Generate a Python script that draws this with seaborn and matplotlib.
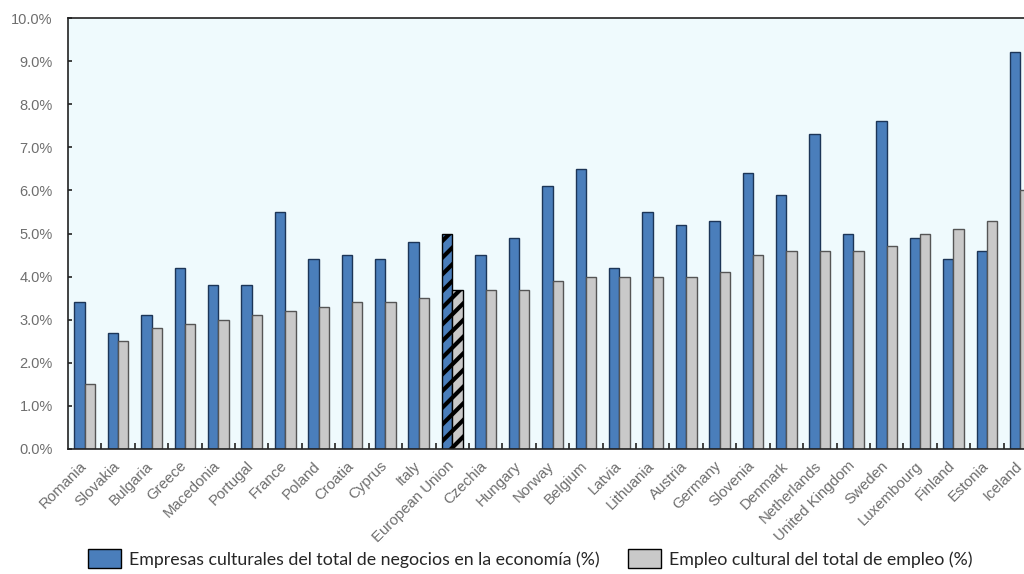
import pandas as pd
import numpy as np
import seaborn as sns
import matplotlib.pyplot as plt
import matplotlib.transforms as mtransforms
from matplotlib.patches import Patch

countries = ['Romania', 'Slovakia', 'Bulgaria', 'Greece', 'Macedonia', 'Portugal', 'France',
             'Poland', 'Croatia', 'Cyprus', 'Italy', 'European Union', 'Czechia', 'Hungary',
             'Norway', 'Belgium', 'Latvia', 'Lithuania', 'Austria', 'Germany', 'Slovenia',
             'Denmark', 'Netherlands', 'United Kingdom', 'Sweden', 'Luxembourg', 'Finland',
             'Estonia', 'Iceland']
empresas = [3.4, 2.7, 3.1, 4.2, 3.8, 3.8, 5.5, 4.4, 4.5, 4.4, 4.8, 5.0, 4.5, 4.9,
            6.1, 6.5, 4.2, 5.5, 5.2, 5.3, 6.4, 5.9, 7.3, 5.0, 7.6, 4.9, 4.4, 4.6, 9.2]
empleo = [1.5, 2.5, 2.8, 2.9, 3.0, 3.1, 3.2, 3.3, 3.4, 3.4, 3.5, 3.7, 3.7, 3.7,
          3.9, 4.0, 4.0, 4.0, 4.0, 4.1, 4.5, 4.6, 4.6, 4.6, 4.7, 5.0, 5.1, 5.3, 6.0]
series = ['Empresas culturales del total de negocios en la economía (%)',
          'Empleo cultural del total de empleo (%)']

df = pd.DataFrame({'pais': countries * 2,
                   'valor': empresas + empleo,
                   'serie': [series[0]] * len(countries) + [series[1]] * len(countries)})

blue = '#4a7ebb'
grey = '#c9c9c9'

sns.set_style('white')
plt.rcParams['font.family'] = ['Liberation Sans', 'DejaVu Sans']
plt.rcParams['hatch.linewidth'] = 3.0

fig = plt.figure(figsize=(10.24, 5.74), dpi=100)
ax = fig.add_axes([68/1024, 125/574, 969/1024, 431/574])
ax.set_facecolor('#effafd')

sns.barplot(data=df, x='pais', y='valor', hue='serie', palette=[blue, grey],
            width=0.62, ax=ax, legend=False, saturation=1)

eu = countries.index('European Union')
for cont, ec in zip(ax.containers, ['#1c3557', '#555555']):
    for i, bar in enumerate(cont):
        bar.set_edgecolor(ec)
        bar.set_linewidth(1.0)
        if i == eu:
            bar.set_hatch('//')
            bar.set_edgecolor('black')

ax.set_xlim(-0.5, len(countries) - 0.5)
ax.set_ylim(0, 10)
ax.set_yticks(np.arange(0, 10.5, 1))
ax.set_yticklabels([f'{v:.1f}%' for v in np.arange(0, 10.5, 1)], color='#6e6e6e', fontsize=10.5)
ax.set_xticks(range(len(countries)))
ax.set_xticklabels(countries, rotation=45, ha='right', rotation_mode='anchor',
                   color='#6e6e6e', fontsize=10.8)
ax.tick_params(axis='x', length=0, pad=7)
ax.tick_params(axis='y', direction='in', length=3, width=1.2, color='#222222', pad=11, left=True)
ax.set_xticks(np.arange(0.5, len(countries) - 0.5, 1), minor=True)
ax.tick_params(axis='x', which='minor', direction='in', length=4, width=1.2,
               color='#222222', bottom=True)
ax.set_xlabel('')
ax.set_ylabel('')
for s in ax.spines.values():
    s.set_color('#222222')
    s.set_linewidth(1.2)

# nudge the rotated labels a little to the left so "Iceland" stays inside
shift = mtransforms.ScaledTranslation(-4/72, 0, fig.dpi_scale_trans)
for tick in ax.xaxis.get_major_ticks():
    tick.label1.set_transform(tick.label1.get_transform() + shift)

handles = [Patch(facecolor=blue, edgecolor='black', label=series[0]),
           Patch(facecolor=grey, edgecolor='black', label=series[1])]
fig.legend(handles=handles, loc='center', bbox_to_anchor=(0.518, 0.027), ncol=2,
           frameon=False, handlelength=1.85, handleheight=1.2,
           columnspacing=1.6, handletextpad=0.45,
           prop={'family': ['Lato', 'DejaVu Sans'], 'size': 12.8})

plt.savefig('out.png', dpi=100)
